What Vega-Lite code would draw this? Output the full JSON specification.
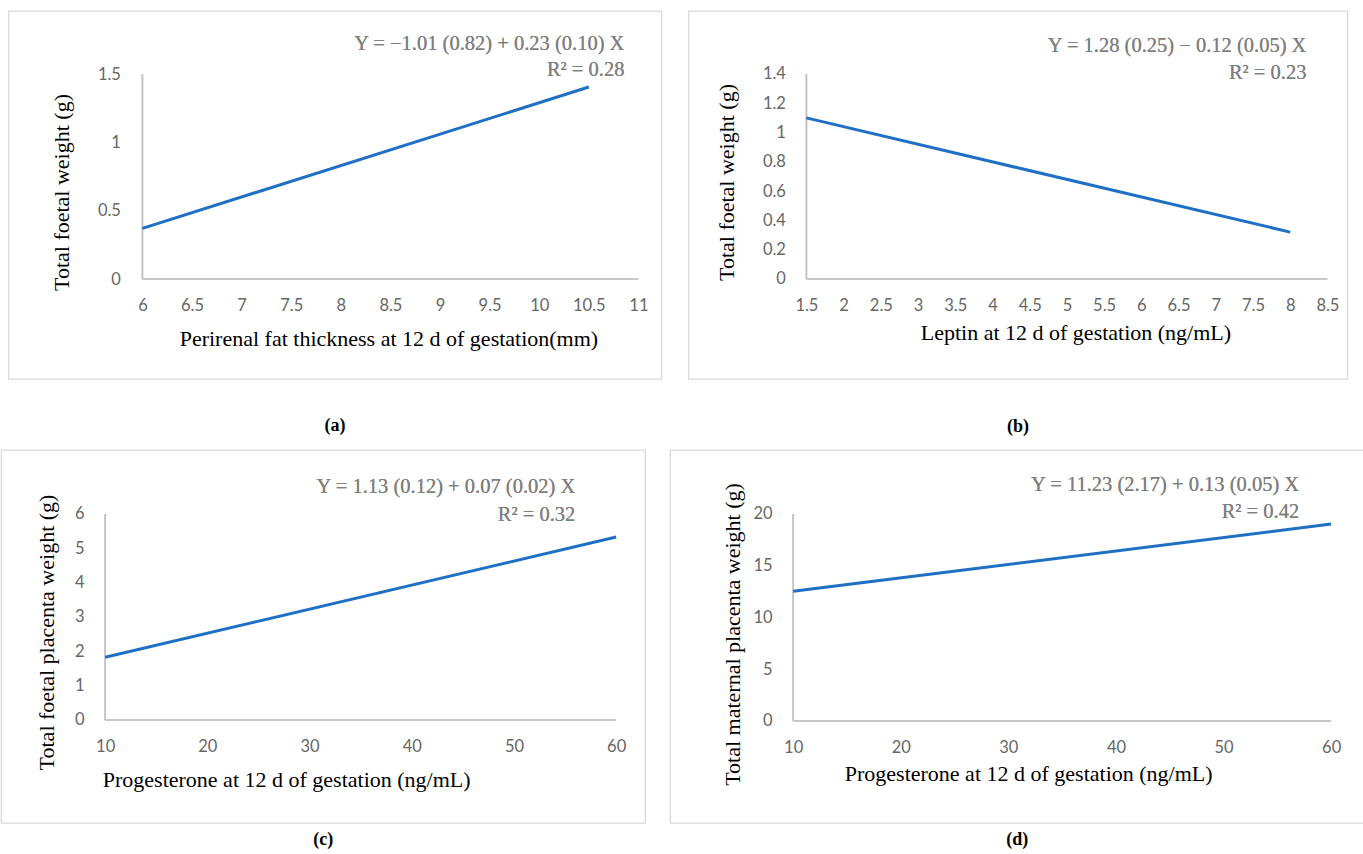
{
  "$schema": "https://vega.github.io/schema/vega-lite/v6.json",
  "padding": {"top": 9, "left": 0, "right": 0, "bottom": 0},
  "background": "white",
  "config": {
    "view": {"stroke": "#d9d9d9", "strokeWidth": 1.3},
    "axis": {"grid": false, "domain": false, "ticks": false, "labelFont": "Lato", "labelFontSize": 16.5, "labelColor": "#666666", "labelPadding": 18, "titleFont": "Liberation Serif", "titleFontSize": 22, "titleFontWeight": "normal", "titleColor": "#000000", "format": "~g"},
    "title": {"font": "Liberation Serif", "fontSize": 18, "fontWeight": "bold", "color": "#000000", "orient": "bottom", "anchor": "middle"},
    "text": {"font": "Liberation Serif", "fontSize": 20.5, "color": "#7f7f7f", "align": "right", "baseline": "middle"},
    "rule": {"color": "#c4c4c4", "strokeWidth": 1.6}
  },
  "datasets": {
    "a": [{"x": 6, "y": 0.37}, {"x": 10.5, "y": 1.405}],
    "b": [{"x": 1.5, "y": 1.10}, {"x": 8, "y": 0.32}],
    "c": [{"x": 10, "y": 1.83}, {"x": 60, "y": 5.33}],
    "d": [{"x": 10, "y": 12.53}, {"x": 60, "y": 19.03}]
  },
  "vconcat": [
    {
      "hconcat": [
        {
          "width": 653, "height": 368,
          "title": {"text": "(a)", "offset": 38},
          "data": {"name": "a"},
          "layer": [
            {"mark": {"type": "rule"}, "encoding": {"x": {"datum": 6}, "x2": {"datum": 11}, "y": {"datum": 0}}},
            {"mark": {"type": "rule"}, "encoding": {"x": {"datum": 6}, "y": {"datum": 0}, "y2": {"datum": 1.5}}},
            {"mark": {"type": "line", "color": "#1f6fc4", "strokeWidth": 3},
             "encoding": {
               "x": {"field": "x", "type": "quantitative", "scale": {"domain": [4.649, 11.232], "nice": false, "zero": false},
                     "axis": {"values": [6, 6.5, 7, 7.5, 8, 8.5, 9, 9.5, 10, 10.5, 11], "offset": -100, "title": "Perirenal fat thickness at 12 d of gestation(mm)", "titleX": 380, "titlePadding": 15}},
               "y": {"field": "y", "type": "quantitative", "scale": {"domain": [-0.7317, 1.961], "nice": false, "zero": false},
                     "axis": {"values": [0, 0.5, 1, 1.5], "offset": -134, "labelPadding": 22, "title": "Total foetal weight (g)", "titleY": 181, "titlePadding": 24}}
             }},
            {"mark": {"type": "text"}, "encoding": {"x": {"datum": 10.859}, "y": {"datum": 1.7217}, "text": {"value": "Y = −1.01 (0.82) + 0.23 (0.10) X"}}},
            {"mark": {"type": "text"}, "encoding": {"x": {"datum": 10.859}, "y": {"datum": 1.527}, "text": {"value": "R² = 0.28"}}}
          ]
        },
        {
          "width": 659, "height": 368,
          "title": {"text": "(b)", "offset": 38},
          "data": {"name": "b"},
          "layer": [
            {"mark": {"type": "rule", "color": "white", "strokeWidth": 1}, "encoding": {"x": {"datum": 8.89}}},
            {"mark": {"type": "rule"}, "encoding": {"x": {"datum": 1.5}, "x2": {"datum": 8.5}, "y": {"datum": 0}}},
            {"mark": {"type": "rule"}, "encoding": {"x": {"datum": 1.5}, "y": {"datum": 0}, "y2": {"datum": 1.4}}},
            {"mark": {"type": "line", "color": "#1f6fc4", "strokeWidth": 3},
             "encoding": {
               "x": {"field": "x", "type": "quantitative", "scale": {"domain": [-0.0854, 8.769], "nice": false, "zero": false},
                     "axis": {"values": [1.5, 2, 2.5, 3, 3.5, 4, 4.5, 5, 5.5, 6, 6.5, 7, 7.5, 8, 8.5], "offset": -100, "title": "Leptin at 12 d of gestation (ng/mL)", "titleX": 387, "titlePadding": 9}},
               "y": {"field": "y", "type": "quantitative", "scale": {"domain": [-0.683, 1.830], "nice": false, "zero": false},
                     "axis": {"values": [0, 0.2, 0.4, 0.6, 0.8, 1, 1.2, 1.4], "offset": -118, "labelPadding": 21, "title": "Total foetal weight (g)", "titleY": 171, "titlePadding": 24}}
             }},
            {"mark": {"type": "text"}, "encoding": {"x": {"datum": 8.218}, "y": {"datum": 1.592}, "text": {"value": "Y = 1.28 (0.25) − 0.12 (0.05) X"}}},
            {"mark": {"type": "text"}, "encoding": {"x": {"datum": 8.218}, "y": {"datum": 1.407}, "text": {"value": "R² = 0.23"}}}
          ]
        }
      ],
      "spacing": 27,
      "bounds": "flush"
    },
    {
      "hconcat": [
        {
          "width": 644, "height": 373,
          "title": {"text": "(c)", "offset": 8},
          "data": {"name": "c"},
          "layer": [
            {"mark": {"type": "rule"}, "encoding": {"x": {"datum": 10}, "x2": {"datum": 60}, "y": {"datum": 0}}},
            {"mark": {"type": "rule"}, "encoding": {"x": {"datum": 10}, "y": {"datum": 0}, "y2": {"datum": 6}}},
            {"mark": {"type": "line", "color": "#1f6fc4", "strokeWidth": 3},
             "encoding": {
               "x": {"field": "x", "type": "quantitative", "scale": {"domain": [-0.176, 62.84], "nice": false, "zero": false},
                     "axis": {"values": [10, 20, 30, 40, 50, 60], "offset": -103, "title": "Progesterone at 12 d of gestation (ng/mL)", "titleX": 285, "titlePadding": 15}},
               "y": {"field": "y", "type": "quantitative", "scale": {"domain": [-3.0, 7.864], "nice": false, "zero": false},
                     "axis": {"values": [0, 1, 2, 3, 4, 5, 6], "offset": -104, "labelPadding": 21, "title": "Total foetal placenta weight (g)", "titleY": 182, "titlePadding": 16}}
             }},
            {"mark": {"type": "text"}, "encoding": {"x": {"datum": 56.0}, "y": {"datum": 6.786}, "text": {"value": "Y = 1.13 (0.12) + 0.07 (0.02) X"}}},
            {"mark": {"type": "text"}, "encoding": {"x": {"datum": 56.0}, "y": {"datum": 5.97}, "text": {"value": "R² = 0.32"}}}
          ]
        },
        {
          "width": 694, "height": 373,
          "title": {"text": "(d)", "offset": 8},
          "data": {"name": "d"},
          "layer": [
            {"mark": {"type": "rule"}, "encoding": {"x": {"datum": 10}, "x2": {"datum": 60}, "y": {"datum": 0}}},
            {"mark": {"type": "rule"}, "encoding": {"x": {"datum": 10}, "y": {"datum": 0}, "y2": {"datum": 20}}},
            {"mark": {"type": "line", "color": "#1f6fc4", "strokeWidth": 3},
             "encoding": {
               "x": {"field": "x", "type": "quantitative", "scale": {"domain": [-1.431, 63.07], "nice": false, "zero": false},
                     "axis": {"values": [10, 20, 30, 40, 50, 60], "offset": -102, "title": "Progesterone at 12 d of gestation (ng/mL)", "titleX": 358, "titlePadding": 8}},
               "y": {"field": "y", "type": "quantitative", "scale": {"domain": [-9.855, 26.18], "nice": false, "zero": false},
                     "axis": {"values": [0, 5, 10, 15, 20], "offset": -123, "labelPadding": 21, "title": "Total maternal placenta weight (g)", "titleY": 184, "titlePadding": 9}}
             }},
            {"mark": {"type": "text"}, "encoding": {"x": {"datum": 57.03}, "y": {"datum": 22.8}, "text": {"value": "Y = 11.23 (2.17) + 0.13 (0.05) X"}}},
            {"mark": {"type": "text"}, "encoding": {"x": {"datum": 57.03}, "y": {"datum": 20.19}, "text": {"value": "R² = 0.42"}}}
          ]
        }
      ],
      "spacing": 25,
      "bounds": "flush"
    }
  ],
  "spacing": 12,
  "bounds": "full",
  "center": true
}
